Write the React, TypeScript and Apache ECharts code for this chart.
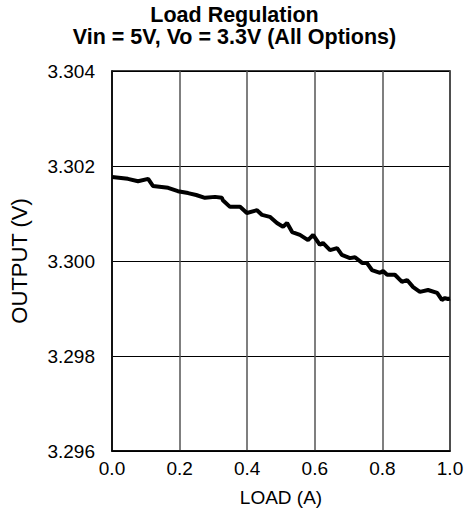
import React, { useEffect, useRef } from "react";
import * as echarts from "echarts";

const loadA = [0.0, 0.047, 0.077, 0.107, 0.121, 0.166, 0.195, 0.225, 0.249, 0.275, 0.305, 0.325, 0.328, 0.349, 0.379, 0.399, 0.429, 0.444, 0.467, 0.488, 0.506, 0.518, 0.533, 0.556, 0.58, 0.595, 0.615, 0.624, 0.645, 0.666, 0.68, 0.704, 0.719, 0.74, 0.754, 0.769, 0.793, 0.802, 0.814, 0.837, 0.858, 0.873, 0.891, 0.911, 0.935, 0.962, 0.976, 0.985, 0.994, 1.0];
const outputV = [3.30177, 3.30173, 3.30168, 3.30173, 3.30158, 3.30154, 3.30147, 3.30143, 3.30139, 3.30133, 3.30135, 3.30133, 3.30128, 3.30114, 3.30114, 3.30101, 3.30107, 3.30097, 3.30093, 3.3008, 3.30072, 3.3008, 3.30061, 3.30055, 3.30044, 3.30055, 3.30034, 3.30038, 3.30023, 3.30027, 3.30013, 3.30006, 3.30008, 3.29996, 3.29996, 3.29981, 3.29975, 3.29979, 3.29971, 3.29971, 3.29956, 3.2996, 3.29945, 3.29935, 3.29939, 3.29933, 3.29918, 3.29922, 3.2992, 3.29921];

const titleLines = ["Load Regulation", "Vin = 5V, Vo = 3.3V (All Options)"];
const xName = "LOAD (A)";
const yName = "OUTPUT (V)";

export default function App() {
  const ref = useRef<HTMLDivElement>(null);
  useEffect(() => {
    if (!ref.current) return;
    const chart = echarts.init(ref.current, null, { renderer: "svg" });
    const font = "'Liberation Sans', Arial, sans-serif";
    chart.setOption({
      animation: false,
      backgroundColor: "#fff",
      textStyle: { fontFamily: font },
      title: {
        text: titleLines.join("\n"),
        left: "center",
        top: -1,
        textStyle: { fontFamily: font, fontWeight: "bold", fontSize: 21.5, lineHeight: 22, color: "#000" },
      },
      grid: {
        left: 112,
        right: 19,
        top: 71,
        bottom: 69,
        show: true,
        borderColor: "#000",
        borderWidth: 1.5,
        containLabel: false,
        outerBoundsMode: "none",
      },
      xAxis: {
        type: "value",
        min: 0,
        max: 1,
        interval: 0.2,
        name: xName,
        nameLocation: "middle",
        nameGap: 37,
        nameTextStyle: { fontSize: 19, color: "#000", fontFamily: font },
        axisLine: { show: true, lineStyle: { color: "#000", width: 1.5 } },
        axisTick: { show: false },
        axisLabel: { fontSize: 19, color: "#000", margin: 8, formatter: (v: number) => v.toFixed(1) },
        splitLine: { show: true, lineStyle: { color: "#555", width: 1.5 } },
      },
      yAxis: {
        type: "value",
        min: 3.296,
        max: 3.304,
        interval: 0.002,
        name: yName,
        nameLocation: "middle",
        nameGap: 82,
        nameTextStyle: { fontSize: 22, color: "#000", fontFamily: font },
        axisLine: { show: true, lineStyle: { color: "#000", width: 1.5 } },
        axisTick: { show: false },
        axisLabel: { fontSize: 19, color: "#000", margin: 17, formatter: (v: number) => v.toFixed(3) },
        splitLine: { show: true, lineStyle: { color: "#000", width: 1 } },
      },
      series: [
        {
          type: "line",
          data: loadA.map((x, i) => [x, outputV[i]]),
          showSymbol: false,
          symbol: "none",
          lineStyle: { color: "#000", width: 4 },
        },
      ],
    });
    return () => chart.dispose();
  }, []);
  return <div ref={ref} style={{ position: "absolute", left: 0, top: 0, width: 469, height: 520 }} />;
}
